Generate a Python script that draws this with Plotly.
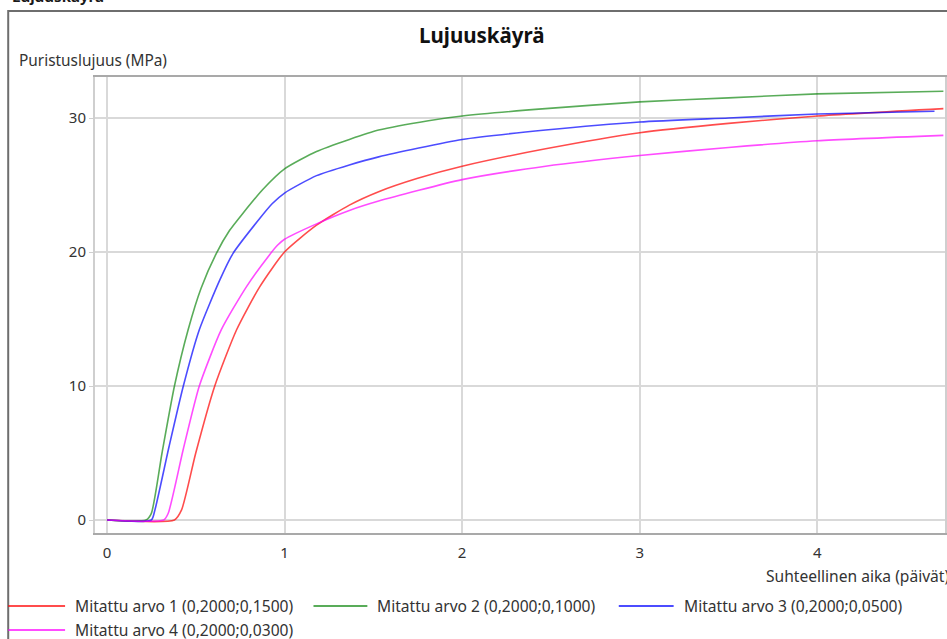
import plotly.graph_objects as go

# ---- data ----
series_names = [
    "Mitattu arvo 1 (0,2000;0,1500)",
    "Mitattu arvo 2 (0,2000;0,1000)",
    "Mitattu arvo 3 (0,2000;0,0500)",
    "Mitattu arvo 4 (0,2000;0,0300)",
]
x1 = [0, 0.38, 0.42, 0.5, 0.607, 0.73, 0.86, 1.0, 1.18, 1.365, 1.53, 1.75, 2.0, 2.47, 3.0, 3.5, 4.0, 4.71]
y1 = [0, 0, 0.75, 5, 10, 14.2, 17.4, 20.0, 22.0, 23.5, 24.5, 25.5, 26.4, 27.7, 28.9, 29.6, 30.15, 30.7]

x2 = [0, 0.22, 0.25, 0.31, 0.38, 0.457, 0.53, 0.616, 0.69, 0.766, 0.88, 1.0, 1.18, 1.365, 1.53, 1.81, 2.0, 2.47, 3.0, 3.5, 4.0, 4.71]
y2 = [0, 0, 0.5, 5, 10, 14.2, 17.3, 19.9, 21.6, 22.9, 24.7, 26.2, 27.5, 28.4, 29.1, 29.8, 30.15, 30.7, 31.2, 31.5, 31.8, 32.0]

x3 = [0, 0.25, 0.27, 0.35, 0.43, 0.52, 0.635, 0.71, 0.86, 0.93, 1.0, 1.18, 1.365, 1.53, 2.0, 2.47, 3.0, 3.5, 4.0, 4.66]
y3 = [0, 0, 0.75, 5.5, 10, 14.2, 17.9, 19.9, 22.5, 23.6, 24.4, 25.7, 26.5, 27.1, 28.4, 29.1, 29.7, 30.0, 30.3, 30.5]

x4 = [0, 0.32, 0.345, 0.43, 0.52, 0.644, 0.785, 0.916, 0.96, 1.0, 1.18, 1.365, 1.53, 2.0, 2.47, 3.0, 3.5, 4.0, 4.71]
y4 = [0, 0, 0.5, 5.3, 10, 14.2, 17.4, 19.8, 20.5, 20.95, 22.1, 23.1, 23.8, 25.4, 26.4, 27.2, 27.8, 28.3, 28.7]

x_ticks = [0, 1, 2, 3, 4]
y_ticks = [0, 10, 20, 30]

colors = ["rgba(255,0,0,0.7)", "rgba(0,128,0,0.65)", "rgba(0,0,255,0.7)", "rgba(255,0,255,0.7)"]

# ---- layout geometry (pixels) ----
W, H = 947, 639
L, R, T, B = 95, 947, 77, 533


def px(x):
    return (x - L) / (R - L)


def py(y):
    return (B - y) / (B - T)


FONT = "Noto Sans"
TXT = "#333333"
TS = 15.6

fig = go.Figure()
for xs, ys, name, c in zip([x1, x2, x3, x4], [y1, y2, y3, y4], series_names, colors):
    fig.add_trace(go.Scatter(x=xs, y=ys, mode="lines", name=name,
                             line=dict(color=c, width=1.6, shape="spline", smoothing=0.6),
                             showlegend=False))

shapes = [
    # outer frame
    dict(type="rect", xref="paper", yref="paper", x0=px(8), x1=px(980), y0=py(11), y1=py(680),
         line=dict(color="#6e6e6e", width=2), layer="below"),
]
annotations = [
    dict(text="<b>Lujuuskäyrä</b>", x=px(10), y=py(8), xref="paper", yref="paper",
         xanchor="left", yanchor="bottom", showarrow=False,
         font=dict(family=FONT, size=15, color="#1a1a1a")),
    dict(text="<b>Lujuuskäyrä</b>", x=px(483), y=py(35), xref="paper", yref="paper",
         xanchor="center", yanchor="middle", showarrow=False,
         font=dict(family=FONT, size=20.5, color="#111111")),
    dict(text="Puristuslujuus (MPa)", x=px(17), y=py(60), xref="paper", yref="paper",
         xanchor="left", yanchor="middle", showarrow=False,
         font=dict(family=FONT, size=15.4, color=TXT)),
    dict(text="Suhteellinen aika (päivät)", x=px(766), y=py(576), xref="paper", yref="paper",
         xanchor="left", yanchor="middle", showarrow=False,
         font=dict(family=FONT, size=TS, color=TXT)),
]

# legend (manual, to match the long swatches)
leg_pos = [(8, 65, 606), (314, 368, 606), (620, 675, 606), (8, 65, 630)]
for (lx0, lx1, ly), name, c in zip(leg_pos, series_names, colors):
    shapes.append(dict(type="line", xref="paper", yref="paper", x0=px(lx0), x1=px(lx1),
                       y0=py(ly), y1=py(ly), line=dict(color=c, width=2)))
    annotations.append(dict(text=name, x=px(lx1 + 8), y=py(ly), xref="paper", yref="paper",
                            xanchor="left", yanchor="middle", showarrow=False,
                            font=dict(family=FONT, size=TS, color=TXT)))

fig.update_layout(
    width=W, height=H, autosize=False,
    margin=dict(l=L, r=W - R, t=T, b=H - B, pad=0),
    paper_bgcolor="white", plot_bgcolor="white",
    showlegend=False,
    shapes=shapes, annotations=annotations,
    font=dict(family=FONT, size=15, color=TXT),
)
fig.update_xaxes(range=[-12 / 178, (947 - 107) / 178], tickvals=x_ticks,
                 showgrid=True, gridcolor="#d9d9d9", gridwidth=1.5,
                 showline=True, linecolor="#a9a9a9", linewidth=2, mirror=True,
                 ticks="", ticklabelstandoff=5, zeroline=False,
                 tickfont=dict(family=FONT, size=15, color=TXT))
fig.update_yaxes(range=[-13 / 13.4, 443 / 13.4], tickvals=y_ticks,
                 showgrid=True, gridcolor="#d9d9d9", gridwidth=1.5,
                 showline=True, linecolor="#cfcfcf", linewidth=2, mirror=True,
                 ticks="outside", ticklen=4, tickcolor="#cfcfcf", zeroline=False,
                 tickfont=dict(family=FONT, size=15, color=TXT))

fig.write_html("out.html", config={"displayModeBar": False},
               post_script="document.body.style.margin='0';document.body.style.overflow='hidden';")
